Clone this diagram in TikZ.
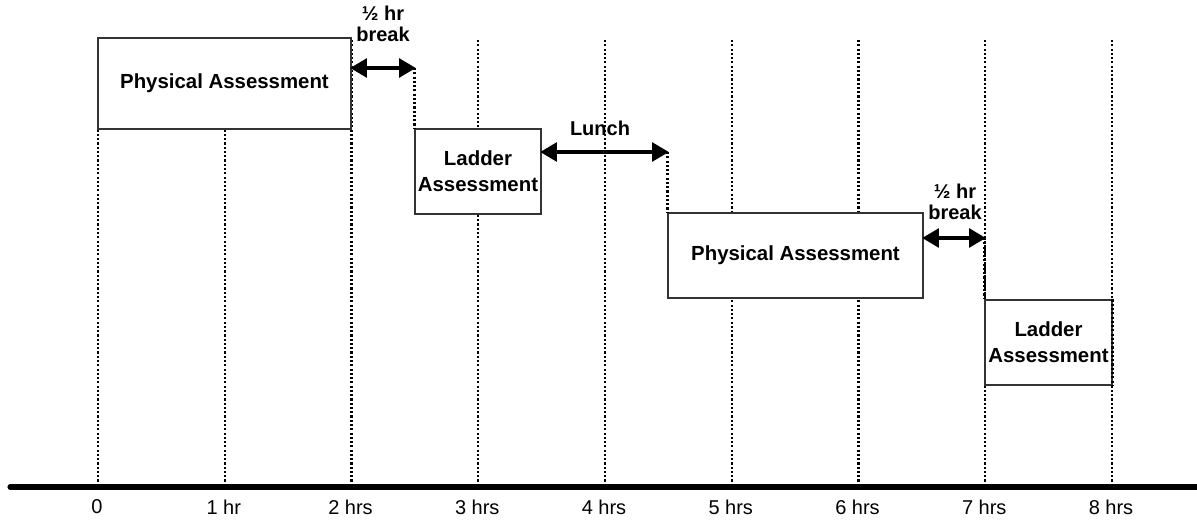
\documentclass[tikz,border=0pt]{standalone}
\usepackage{fontspec}
\setmainfont{Liberation Sans}
\usetikzlibrary{arrows.meta}
\begin{document}
\begin{tikzpicture}[x=0.75pt,y=-0.75pt,
  lbl/.style={font=\fontsize{15}{16}\selectfont\bfseries, align=center, inner sep=0pt},
  ticklbl/.style={font=\fontsize{15}{16}\selectfont, inner sep=0pt},
  task/.style={draw=black!80, line width=0.8pt, fill=white, inner sep=0pt,
    font=\fontsize{15.3}{19.5}\selectfont\bfseries, align=center},
  grid/.style={line width=1.6pt, dash pattern=on 1.6pt off 1.6pt},
  span/.style={line width=2.6pt, {Triangle[length=12.5pt,width=14pt]}-{Triangle[length=12.5pt,width=14pt]}, shorten <=-1pt, shorten >=-1pt},
  timeline/.style={line width=3.8pt, line cap=round}]
\useasboundingbox (0,0) rectangle (1197,521);

% hour marks along the time axis
\foreach \h/\t in {0/0,1/1 hr,2/2 hrs,3/3 hrs,4/4 hrs,5/5 hrs,6/6 hrs,7/7 hrs,8/8 hrs}{
  \coordinate (top\h) at ({98+126.75*\h},40);
  \coordinate (bot\h) at ({98+126.75*\h},485);
  \node[ticklbl] (t\h) at ({97+126.75*\h},507) {\t};
  \draw[grid] (top\h) -- (bot\h);
}

% time axis
\coordinate (axL) at (10,487);
\coordinate (axR) at (1210,487);
\draw[timeline] (axL) -- (axR);

% schedule blocks
\node[task, minimum width=189.75pt, minimum height=68.25pt] (pa1) at (224.5,83.5) {Physical Assessment};
\node[task, minimum width=94.5pt, minimum height=63.75pt] (la1) at (478,171.5) {Ladder\\Assessment};
\node[task, minimum width=191.25pt, minimum height=63.75pt] (pa2) at (795.5,255.5) {Physical Assessment};
\node[task, minimum width=95.25pt, minimum height=63.75pt] (la2) at (1048.5,342.5) {Ladder\\Assessment};

% dotted drop lines from each break to the next block
\coordinate (b1) at (la1.north west |- 0,68);
\coordinate (b2) at (pa2.north west |- 0,152);
\coordinate (b3) at (la2.north west |- 0,238);
\draw[grid] (b1) -- (la1.north west);
\draw[grid] (b2) -- (pa2.north west);
\draw[grid] (b3) -- (la2.north west);
\draw[grid] (la2.north east) -- (la2.south east);

% breaks
\draw[span] (pa1.east |- b1) -- (b1);
\draw[span] (la1.east |- b2) -- (b2);
\draw[span] (pa2.east |- b3) -- (b3);

\node[lbl] (br1) at (383,24) {½ hr\\break};
\node[lbl] (lunch) at (600,128) {Lunch};
\node[lbl] (br2) at (955,202) {½ hr\\break};
\end{tikzpicture}
\end{document}
